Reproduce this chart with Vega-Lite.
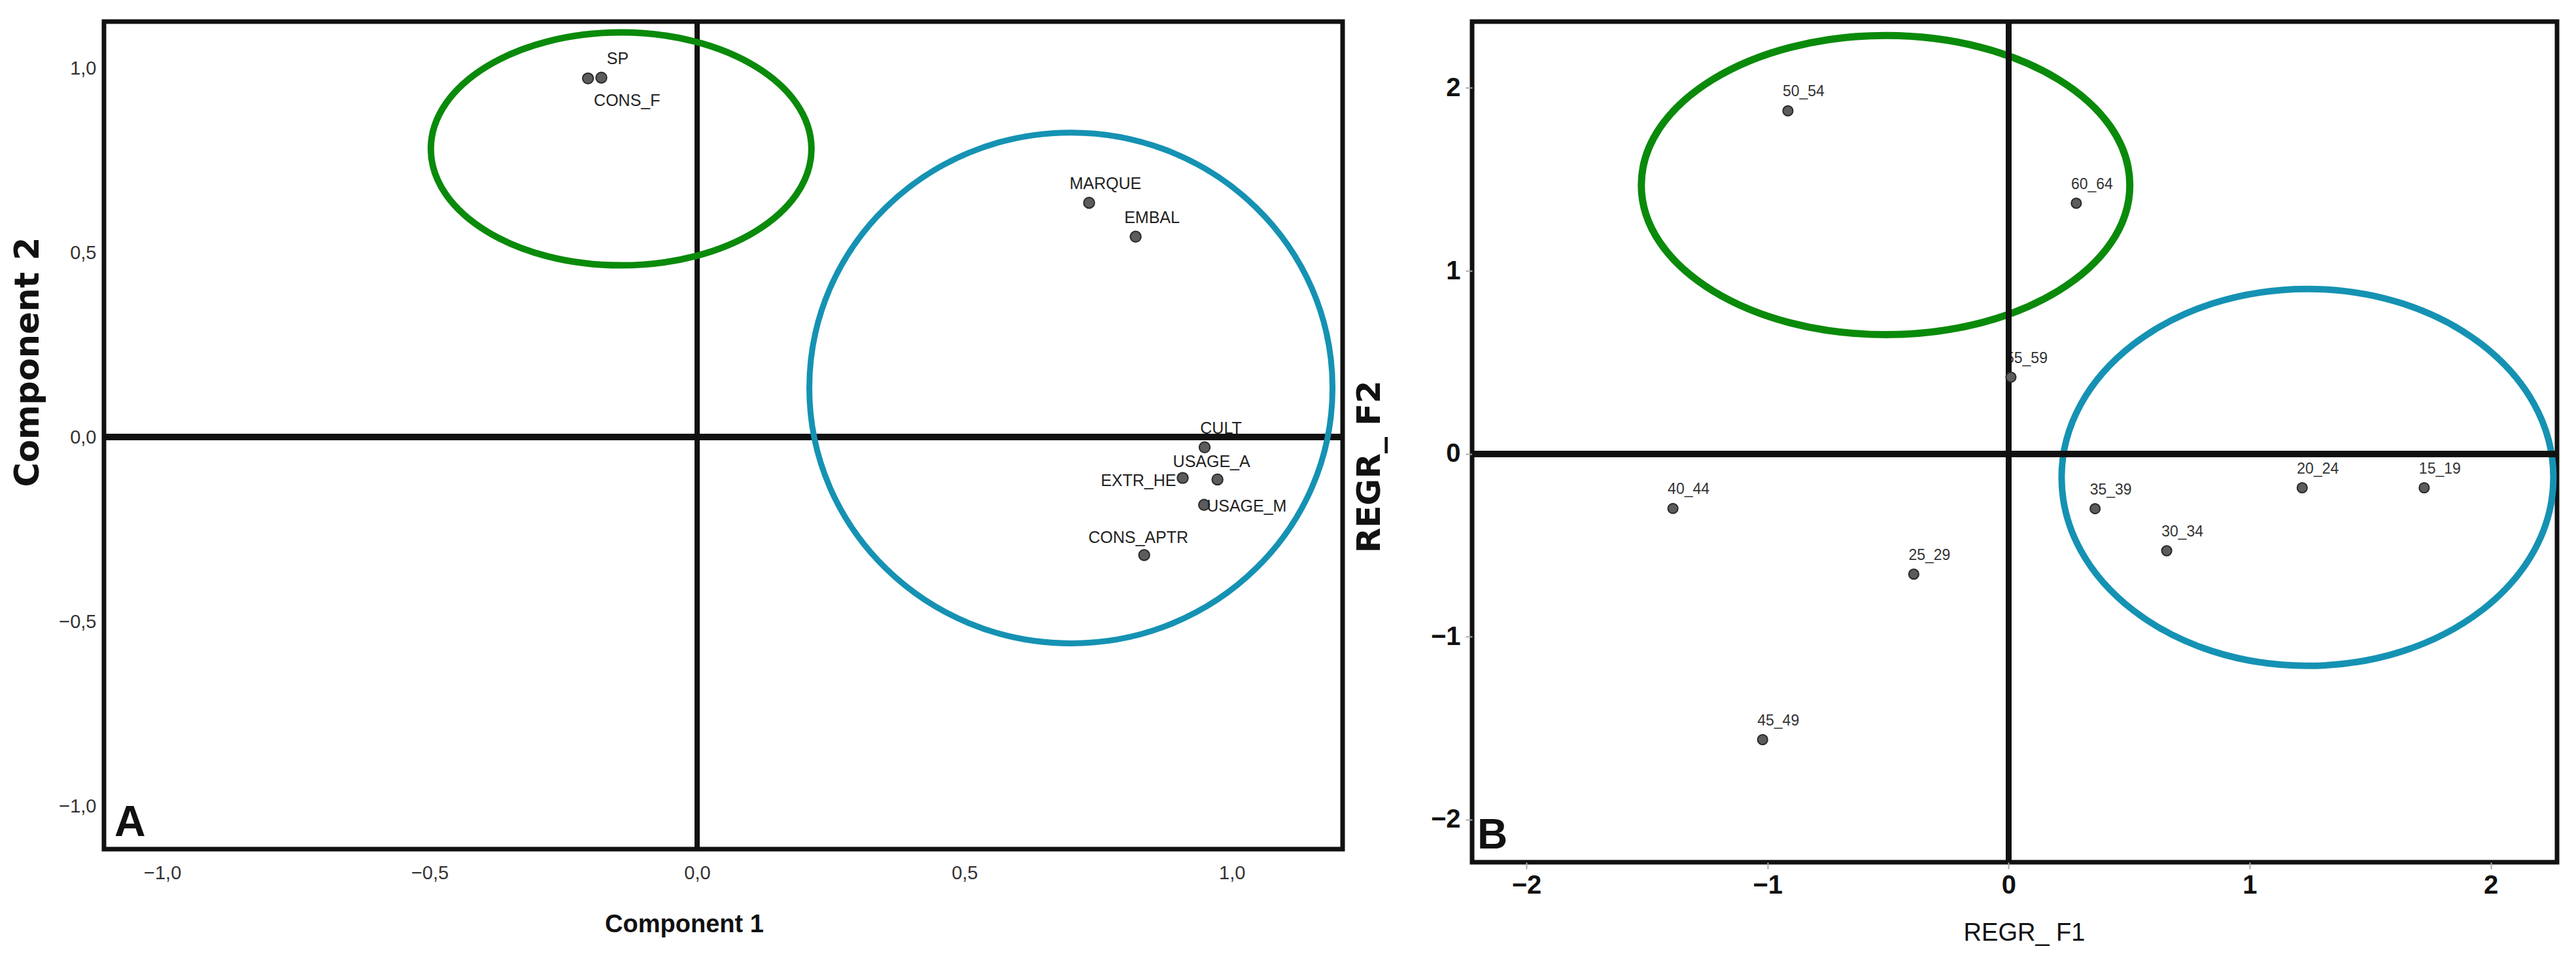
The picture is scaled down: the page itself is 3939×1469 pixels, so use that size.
{
  "$schema": "https://vega.github.io/schema/vega-lite/v6.json",
  "background": "white",
  "padding": {"left": 14, "top": 25, "right": 25, "bottom": 5},
  "spacing": 4,
  "config": {
    "locale": {"number": {"decimal": ",", "thousands": ".", "grouping": [3], "currency": ["", " €"]}},
    "view": {"stroke": "#111111", "strokeWidth": 7},
    "axis": {"grid": false, "domain": false}
  },
  "datasets": {
    "loadings": [
      {"name": "SP", "c1": -0.179, "c2": 0.974},
      {"name": "CONS_F", "c1": -0.204, "c2": 0.972},
      {"name": "MARQUE", "c1": 0.733, "c2": 0.635},
      {"name": "EMBAL", "c1": 0.820, "c2": 0.543},
      {"name": "CULT", "c1": 0.949, "c2": -0.028},
      {"name": "EXTR_HE", "c1": 0.908, "c2": -0.111},
      {"name": "USAGE_A", "c1": 0.973, "c2": -0.115},
      {"name": "USAGE_M", "c1": 0.948, "c2": -0.184},
      {"name": "CONS_APTR", "c1": 0.836, "c2": -0.32}
    ],
    "scores": [
      {"name": "15_19", "f1": 1.724, "f2": -0.186},
      {"name": "20_24", "f1": 1.218, "f2": -0.186},
      {"name": "25_29", "f1": -0.393, "f2": -0.658},
      {"name": "30_34", "f1": 0.656, "f2": -0.53},
      {"name": "35_39", "f1": 0.359, "f2": -0.30},
      {"name": "40_44", "f1": -1.392, "f2": -0.299},
      {"name": "45_49", "f1": -1.02, "f2": -1.563},
      {"name": "50_54", "f1": -0.915, "f2": 1.875},
      {"name": "55_59", "f1": 0.01, "f2": 0.419},
      {"name": "60_64", "f1": 0.281, "f2": 1.37}
    ],
    "groupsA": [
      {"group": "g1", "c1": -0.142, "c2": 0.781},
      {"group": "g2", "c1": 0.699, "c2": 0.133}
    ],
    "groupsB": [
      {"group": "g1", "f1": -0.51, "f2": 1.469},
      {"group": "g2", "f1": 1.24, "f2": -0.129}
    ]
  },
  "hconcat": [
    {
      "width": 1894,
      "height": 1265,
      "data": {"name": "loadings"},
      "layer": [
        {
          "mark": {"type": "rule", "color": "#111111", "strokeWidth": 9},
          "encoding": {"y": {"datum": 0}}
        },
        {
          "mark": {"type": "rule", "color": "#111111", "strokeWidth": 7},
          "encoding": {"x": {"datum": 0}}
        },
        {
          "data": {"name": "groupsA"},
          "transform": [{"filter": "datum.group === 'g1'"}],
          "mark": {"type": "point", "filled": false, "opacity": 1, "stroke": "#0a8a0a", "strokeWidth": 10, "size": 338724,
            "shape": "M1,0 C1,0.3378 0.5523,0.6117 0,0.6117 C-0.5523,0.6117 -1,0.3378 -1,0 C-1,-0.3378 -0.5523,-0.6117 0,-0.6117 C0.5523,-0.6117 1,-0.3378 1,0 Z"},
          "encoding": {
            "x": {"field": "c1", "type": "quantitative"},
            "y": {"field": "c2", "type": "quantitative"}
          }
        },
        {
          "data": {"name": "groupsA"},
          "transform": [{"filter": "datum.group === 'g2'"}],
          "mark": {"type": "point", "filled": false, "opacity": 1, "stroke": "#1592b3", "strokeWidth": 9, "size": 640000,
            "shape": "M1,0 C1,0.539 0.5523,0.976 0,0.976 C-0.5523,0.976 -1,0.539 -1,0 C-1,-0.539 -0.5523,-0.976 0,-0.976 C0.5523,-0.976 1,-0.539 1,0 Z"},
          "encoding": {
            "x": {"field": "c1", "type": "quantitative"},
            "y": {"field": "c2", "type": "quantitative"}
          }
        },
        {
          "mark": {"type": "point", "filled": true, "opacity": 1, "fill": "#5c5c5c", "stroke": "#2a2a2a", "strokeWidth": 2, "size": 270},
          "encoding": {
            "x": {"field": "c1", "type": "quantitative",
              "scale": {"domain": [-1.109, 1.207], "nice": false, "zero": false},
              "axis": {"title": "Component 1", "values": [-1, -0.5, 0, 0.5, 1], "format": ".1f", "ticks": false,
                "labelFont": "Liberation Sans", "labelFontSize": 29, "labelColor": "#333333", "labelPadding": 22,
                "titleFont": "Liberation Sans", "titleFontWeight": "bold", "titleFontSize": 38, "titleColor": "#111111", "titlePadding": 45, "titleX": 887}},
            "y": {"field": "c2", "type": "quantitative",
              "scale": {"domain": [-1.117, 1.126], "nice": false, "zero": false},
              "axis": {"title": "Component 2", "values": [-1, -0.5, 0, 0.5, 1], "format": ".1f", "ticks": false,
                "labelFont": "Liberation Sans", "labelFontSize": 29, "labelColor": "#333333", "labelPadding": 12,
                "titleFont": "DejaVu Sans", "titleFontWeight": "bold", "titleFontSize": 51, "titleColor": "#111111", "titlePadding": 20, "titleY": 520}}
          }
        },
        {
          "transform": [{"filter": {"field": "name", "oneOf": ["MARQUE", "EMBAL", "CULT", "SP"]}}],
          "mark": {"type": "text", "font": "Liberation Sans", "fontSize": 25, "color": "#222222", "align": "center", "baseline": "alphabetic", "dx": 25, "dy": -21},
          "encoding": {"x": {"field": "c1", "type": "quantitative"}, "y": {"field": "c2", "type": "quantitative"}, "text": {"field": "name"}}
        },
        {
          "transform": [{"filter": {"field": "name", "oneOf": ["USAGE_A", "CONS_APTR"]}}],
          "mark": {"type": "text", "font": "Liberation Sans", "fontSize": 25, "color": "#222222", "align": "center", "baseline": "alphabetic", "dx": -9, "dy": -19},
          "encoding": {"x": {"field": "c1", "type": "quantitative"}, "y": {"field": "c2", "type": "quantitative"}, "text": {"field": "name"}}
        },
        {
          "transform": [{"filter": {"field": "name", "oneOf": ["EXTR_HE"]}}],
          "mark": {"type": "text", "font": "Liberation Sans", "fontSize": 25, "color": "#222222", "align": "right", "baseline": "middle", "dx": -10, "dy": 4},
          "encoding": {"x": {"field": "c1", "type": "quantitative"}, "y": {"field": "c2", "type": "quantitative"}, "text": {"field": "name"}}
        },
        {
          "transform": [{"filter": {"field": "name", "oneOf": ["USAGE_M"]}}],
          "mark": {"type": "text", "font": "Liberation Sans", "fontSize": 25, "color": "#222222", "align": "left", "baseline": "middle", "dx": 4, "dy": 2},
          "encoding": {"x": {"field": "c1", "type": "quantitative"}, "y": {"field": "c2", "type": "quantitative"}, "text": {"field": "name"}}
        },
        {
          "transform": [{"filter": {"field": "name", "oneOf": ["CONS_F"]}}],
          "mark": {"type": "text", "font": "Liberation Sans", "fontSize": 25, "color": "#222222", "align": "left", "baseline": "top", "dx": 9, "dy": 22},
          "encoding": {"x": {"field": "c1", "type": "quantitative"}, "y": {"field": "c2", "type": "quantitative"}, "text": {"field": "name"}}
        },
        {
          "data": {"values": [{"panel": "A"}]},
          "mark": {"type": "text", "font": "Liberation Sans", "fontWeight": "bold", "fontSize": 66, "color": "#111111", "align": "left", "baseline": "bottom", "dx": 16, "dy": -6},
          "encoding": {"x": {"datum": -1.109}, "y": {"datum": -1.117}, "text": {"field": "panel"}}
        }
      ]
    },
    {
      "width": 1659,
      "height": 1285,
      "data": {"name": "scores"},
      "layer": [
        {
          "data": {"name": "groupsB"},
          "transform": [{"filter": "datum.group === 'g1'"}],
          "mark": {"type": "point", "filled": false, "opacity": 1, "stroke": "#0a8a0a", "strokeWidth": 11, "size": 558009,
            "shape": "M1,0 C1,0.338 0.5523,0.612 0,0.612 C-0.5523,0.612 -1,0.338 -1,0 C-1,-0.338 -0.5523,-0.612 0,-0.612 C0.5523,-0.612 1,-0.338 1,0 Z"},
          "encoding": {
            "x": {"field": "f1", "type": "quantitative"},
            "y": {"field": "f2", "type": "quantitative"}
          }
        },
        {
          "data": {"name": "groupsB"},
          "transform": [{"filter": "datum.group === 'g2'"}],
          "mark": {"type": "point", "filled": false, "opacity": 1, "stroke": "#1592b3", "strokeWidth": 10, "size": 565504,
            "shape": "M1,0 C1,0.423 0.5523,0.766 0,0.766 C-0.5523,0.766 -1,0.423 -1,0 C-1,-0.423 -0.5523,-0.766 0,-0.766 C0.5523,-0.766 1,-0.423 1,0 Z"},
          "encoding": {
            "x": {"field": "f1", "type": "quantitative"},
            "y": {"field": "f2", "type": "quantitative"}
          }
        },
        {
          "mark": {"type": "text", "font": "Liberation Sans", "fontSize": 23, "color": "#333333", "align": "left", "baseline": "alphabetic", "dx": -8, "dy": -22},
          "encoding": {"x": {"field": "f1", "type": "quantitative"}, "y": {"field": "f2", "type": "quantitative"}, "text": {"field": "name"}}
        },
        {
          "mark": {"type": "rule", "color": "#111111", "strokeWidth": 9},
          "encoding": {"y": {"datum": 0}}
        },
        {
          "mark": {"type": "rule", "color": "#111111", "strokeWidth": 8},
          "encoding": {"x": {"datum": 0}}
        },
        {
          "mark": {"type": "point", "filled": true, "opacity": 1, "fill": "#5c5c5c", "stroke": "#2a2a2a", "strokeWidth": 2, "size": 230},
          "encoding": {
            "x": {"field": "f1", "type": "quantitative",
              "scale": {"domain": [-2.225, 2.275], "nice": false, "zero": false},
              "axis": {"title": "REGR_ F1", "values": [-2, -1, 0, 1, 2], "format": "d", "ticks": true, "tickSize": 10, "tickColor": "#aaaaaa", "tickWidth": 2,
                "labelFont": "Liberation Sans", "labelFontWeight": "bold", "labelFontSize": 40, "labelColor": "#111111", "labelPadding": 5,
                "titleFont": "Liberation Sans", "titleFontWeight": "normal", "titleFontSize": 38, "titleColor": "#111111", "titlePadding": 34, "titleX": 844}},
            "y": {"field": "f2", "type": "quantitative",
              "scale": {"domain": [-2.233, 2.363], "nice": false, "zero": false},
              "axis": {"title": "REGR_ F2", "values": [-2, -1, 0, 1, 2], "format": "d", "ticks": true, "tickSize": 10, "tickColor": "#aaaaaa", "tickWidth": 2,
                "labelFont": "Liberation Sans", "labelFontWeight": "bold", "labelFontSize": 40, "labelColor": "#111111", "labelPadding": 8,
                "titleFont": "DejaVu Sans", "titleFontWeight": "bold", "titleFontSize": 50, "titleColor": "#111111", "titlePadding": 68, "titleY": 680}}
          }
        },
        {
          "data": {"values": [{"panel": "B"}]},
          "mark": {"type": "text", "font": "Liberation Sans", "fontWeight": "bold", "fontSize": 64, "color": "#111111", "align": "left", "baseline": "bottom", "dx": 8, "dy": -8},
          "encoding": {"x": {"datum": -2.225}, "y": {"datum": -2.233}, "text": {"field": "panel"}}
        }
      ]
    }
  ]
}
